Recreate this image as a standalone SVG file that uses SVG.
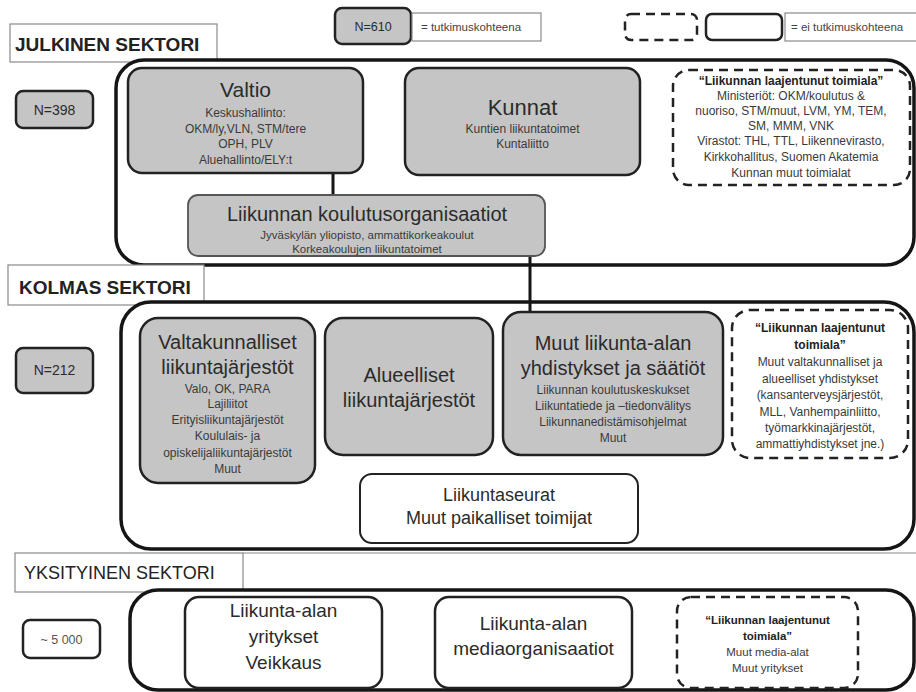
<svg xmlns="http://www.w3.org/2000/svg" width="916" height="692" viewBox="0 0 916 692">
<style>
text{font-family:"Liberation Sans",Arial,sans-serif;fill:#2b2b2b}
.t{text-anchor:middle}
.ttl{font-size:21px}
.h20{font-size:20px}
.h19{font-size:19px}
.sub{font-size:12px;fill:#3a3a3a}
.sm{font-size:11.5px;fill:#3a3a3a}
.b{font-weight:bold}
.lbl{font-weight:bold;font-size:19px;fill:#222}
.gray{fill:#c5c5c5;stroke:#222;stroke-width:2.5}
.white{fill:#fff;stroke:#222;stroke-width:2.5}
.dash{fill:#fff;stroke:#222;stroke-width:2.5;stroke-dasharray:9 6}
.main{fill:#fff;stroke:#151515;stroke-width:3.5}
.lb{fill:#fff;stroke:#8a8a8a;stroke-width:1.2}
.con{stroke:#151515;stroke-width:3;fill:none}
</style>

<!-- Legend -->
<g id="legend">
  <rect class="gray" x="335" y="8" width="76" height="36" rx="7"/>
  <text class="t" x="373" y="31" style="font-size:12.5px">N=610</text>
  <rect class="lb" x="412" y="13" width="129" height="28"/>
  <text x="421" y="31" style="font-size:11.5px;fill:#444">= tutkimuskohteena</text>
  <rect class="dash" x="625" y="14" width="72" height="26" rx="6"/>
  <rect class="white" x="706" y="14" width="76" height="26" rx="6"/>
  <rect class="lb" x="785" y="13" width="140" height="28"/>
  <text x="791" y="31" style="font-size:11.5px;fill:#444">= ei tutkimuskohteena</text>
</g>

<!-- Sector containers -->
<g id="julkinen-sektori">
  <rect class="lb" x="10" y="24" width="207" height="38"/>
  <text class="lbl" x="15" y="51">JULKINEN SEKTORI</text>
  <rect class="main" x="116" y="60" width="798" height="205" rx="28"/>
</g>
<g id="kolmas-sektori">
  <rect class="lb" x="8" y="265" width="196" height="40"/>
  <text class="lbl" x="19" y="294">KOLMAS SEKTORI</text>
  <rect class="main" x="121" y="302" width="793" height="247" rx="30"/>
</g>
<g id="yksityinen-sektori">
  <line x1="243" y1="553" x2="916" y2="553" stroke="#8a8a8a" stroke-width="1.2"/>
  <rect class="lb" x="15" y="553" width="228" height="39"/>
  <text x="24" y="579" style="font-size:18px;fill:#222">YKSITYINEN SEKTORI</text>
  <rect class="main" x="130" y="590" width="784" height="100" rx="28"/>
</g>

<!-- Connectors -->
<g id="connectors">
  <line class="con" x1="333" y1="173" x2="333" y2="196"/>
  <line class="con" x1="530" y1="255" x2="530" y2="313"/>
</g>

<!-- Julkinen nodes -->
<g id="n398">
  <rect class="gray" x="16" y="91" width="77" height="37" rx="7"/>
  <text class="t" x="54.5" y="115" style="font-size:14px">N=398</text>
</g>
<g id="valtio">
  <rect class="gray" x="128" y="68" width="235" height="105" rx="14"/>
  <text class="t ttl" x="245.5" y="97">Valtio</text>
  <text class="t sub" x="245.5" y="116.5">Keskushallinto:</text>
  <text class="t sub" x="245.5" y="132.5">OKM/ly,VLN, STM/tere</text>
  <text class="t sub" x="245.5" y="148">OPH, PLV</text>
  <text class="t sub" x="245.5" y="164">Aluehallinto/ELY:t</text>
</g>
<g id="kunnat">
  <rect class="gray" x="405" y="68" width="235" height="107" rx="14"/>
  <text class="t" x="522.5" y="115" style="font-size:22px">Kunnat</text>
  <text class="t sub" x="522.5" y="132.5">Kuntien liikuntatoimet</text>
  <text class="t sub" x="522.5" y="148">Kuntaliitto</text>
</g>
<g id="julkinen-laajentunut">
  <rect class="dash" x="673" y="70" width="237" height="115" rx="16"/>
  <text class="t sub b" x="791" y="84.5" style="fill:#222">“Liikunnan laajentunut toimiala”</text>
  <text class="t sub" x="791" y="99.5">Ministeriöt: OKM/koulutus &amp;</text>
  <text class="t sub" x="791" y="114.5">nuoriso, STM/muut, LVM, YM, TEM,</text>
  <text class="t sub" x="791" y="129.5">SM, MMM, VNK</text>
  <text class="t sub" x="791" y="144.5">Virastot: THL, TTL, Liikennevirasto,</text>
  <text class="t sub" x="791" y="160.5">Kirkkohallitus, Suomen Akatemia</text>
  <text class="t sub" x="791" y="176.5">Kunnan muut toimialat</text>
</g>
<g id="koulutus">
  <rect x="188" y="195" width="357" height="61" rx="10" fill="#c5c5c5" stroke="#555" stroke-width="1.8"/>
  <text class="t h20" x="367" y="221">Liikunnan koulutusorganisaatiot</text>
  <text class="t sm" x="367" y="238.5">Jyväskylän yliopisto, ammattikorkeakoulut</text>
  <text class="t sm" x="367" y="252.5">Korkeakoulujen liikuntatoimet</text>
</g>

<!-- Kolmas nodes -->
<g id="n212">
  <rect class="gray" x="16" y="348" width="77" height="45" rx="7"/>
  <text class="t" x="54.5" y="375" style="font-size:14px">N=212</text>
</g>
<g id="valtakunnalliset">
  <rect class="gray" x="140" y="318" width="175" height="165" rx="18"/>
  <text class="t h20" x="227.5" y="349">Valtakunnalliset</text>
  <text class="t h20" x="227.5" y="374">liikuntajärjestöt</text>
  <text class="t sub" x="227.5" y="392.5">Valo, OK, PARA</text>
  <text class="t sub" x="227.5" y="407.5">Lajiliitot</text>
  <text class="t sub" x="227.5" y="423.5">Erityisliikuntajärjestöt</text>
  <text class="t sub" x="227.5" y="439.5">Koululais- ja</text>
  <text class="t sub" x="227.5" y="457">opiskelijaliikuntajärjestöt</text>
  <text class="t sub" x="227.5" y="472.5">Muut</text>
</g>
<g id="alueelliset">
  <rect class="gray" x="325" y="318" width="168" height="137" rx="18"/>
  <text class="t h20" x="409" y="382">Alueelliset</text>
  <text class="t h20" x="409" y="407">liikuntajärjestöt</text>
</g>
<g id="muut-yhdistykset">
  <rect class="gray" x="503" y="312" width="220" height="143" rx="18"/>
  <text class="t h20" x="613" y="350">Muut liikunta-alan</text>
  <text class="t h20" x="613" y="375">yhdistykset ja säätiöt</text>
  <text class="t sub" x="613" y="393.5">Liikunnan koulutuskeskukset</text>
  <text class="t sub" x="613" y="409.5">Liikuntatiede ja –tiedonvälitys</text>
  <text class="t sub" x="613" y="426">Liikunnanedistämisohjelmat</text>
  <text class="t sub" x="613" y="441.5">Muut</text>
</g>
<g id="kolmas-laajentunut">
  <rect class="dash" x="732" y="310" width="176" height="148" rx="18"/>
  <text class="t sub b" x="820" y="332" style="fill:#222">“Liikunnan laajentunut</text>
  <text class="t sub b" x="820" y="349" style="fill:#222">toimiala”</text>
  <text class="t sub" x="820" y="366">Muut valtakunnalliset ja</text>
  <text class="t sub" x="820" y="382.5">alueelliset yhdistykset</text>
  <text class="t sub" x="820" y="399">(kansanterveysjärjestöt,</text>
  <text class="t sub" x="820" y="415.5">MLL, Vanhempainliitto,</text>
  <text class="t sub" x="820" y="431.5">työmarkkinajärjestöt,</text>
  <text class="t sub" x="820" y="447.5">ammattiyhdistykset jne.)</text>
</g>
<g id="liikuntaseurat">
  <rect class="white" x="360" y="474" width="278" height="69" rx="12" style="stroke-width:2"/>
  <text class="t" x="499" y="501" style="font-size:18px">Liikuntaseurat</text>
  <text class="t" x="499" y="524" style="font-size:18px">Muut paikalliset toimijat</text>
</g>

<!-- Yksityinen nodes -->
<g id="n5000">
  <rect class="white" x="23" y="620" width="77" height="38" rx="7"/>
  <text class="t" x="61.5" y="644" style="font-size:12.5px;fill:#555">~ 5 000</text>
</g>
<g id="yritykset">
  <rect class="white" x="185" y="597" width="197" height="91" rx="14"/>
  <text class="t h19" x="283.5" y="617">Liikunta-alan</text>
  <text class="t h19" x="283.5" y="643">yritykset</text>
  <text class="t h19" x="283.5" y="669">Veikkaus</text>
</g>
<g id="media">
  <rect class="white" x="435" y="597" width="197" height="91" rx="14"/>
  <text class="t h19" x="533.5" y="630">Liikunta-alan</text>
  <text class="t h19" x="533.5" y="655">mediaorganisaatiot</text>
</g>
<g id="yksityinen-laajentunut">
  <rect class="dash" x="677" y="597" width="181" height="91" rx="14"/>
  <text class="t sm b" x="767.5" y="624" style="fill:#222">“Liikunnan laajentunut</text>
  <text class="t sm b" x="767.5" y="640" style="fill:#222">toimiala”</text>
  <text class="t sm" x="767.5" y="656">Muut media-alat</text>
  <text class="t sm" x="767.5" y="672">Muut yritykset</text>
</g>
</svg>
